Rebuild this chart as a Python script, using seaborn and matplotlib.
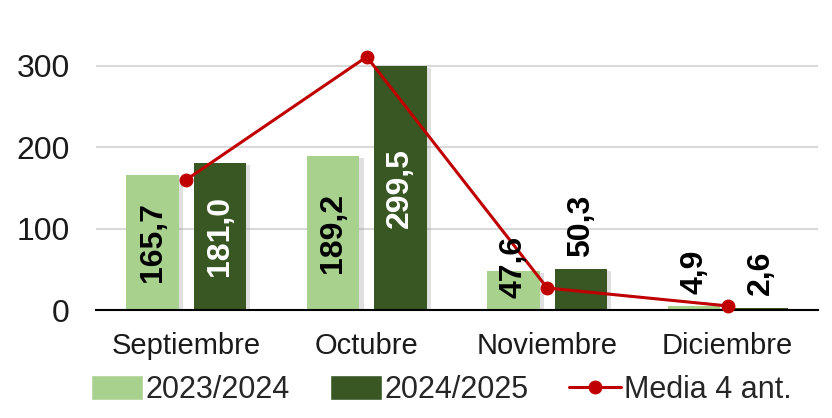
import matplotlib
matplotlib.use("Agg")
import matplotlib.pyplot as plt
import matplotlib.patheffects as pe
from matplotlib.lines import Line2D
from matplotlib.patches import Patch
import pandas as pd
import seaborn as sns

months = ["Septiembre", "Octubre", "Noviembre", "Diciembre"]
season_a = [165.7, 189.2, 47.6, 4.9]
season_b = [181.0, 299.5, 50.3, 2.6]
media_4 = [160, 311, 27, 5]
season_names = ["2023/2024", "2024/2025"]

LIGHT = "#A9D18E"
DARK = "#385723"
RED = "#C00000"

sns.set_theme(style="white")
plt.rcParams["font.family"] = ["Liberation Sans", "DejaVu Sans"]

df = pd.DataFrame({
    "mes": months * 2,
    "valor": season_a + season_b,
    "temporada": [season_names[0]] * 4 + [season_names[1]] * 4,
})

fig = plt.figure(figsize=(8.32, 4.18), dpi=100)
ax = fig.add_axes([96 / 832, 108 / 418, 722 / 832, 285 / 418])

sns.barplot(data=df, x="mes", y="valor", hue="temporada", order=months,
            hue_order=season_names, palette=[LIGHT, DARK], width=0.744,
            gap=0.22, saturation=1, legend=False, ax=ax, zorder=2)

shadow = [pe.SimplePatchShadow(offset=(3, -1.5), shadow_rgbFace="#999999", alpha=0.3), pe.Normal()]
for bar in ax.patches:
    bar.set_path_effects(shadow)
    bar.set_edgecolor("none")

x = list(range(len(months)))
ax.plot(x, media_4, color=RED, lw=2.2, marker="o", ms=9, zorder=4, clip_on=False)

# data labels
for container, vals, inner_color in zip(ax.containers, [season_a, season_b], ["black", "white"]):
    for bar, v in zip(container, vals):
        cx = bar.get_x() + bar.get_width() / 2
        txt = f"{v:.1f}".replace(".", ",")
        if v > 100:
            ax.text(cx, v / 2, txt, rotation=90, ha="center", va="center",
                    fontsize=23, fontweight="bold", color=inner_color, zorder=5)
        else:
            off = -19 if v == 47.6 else 9
            ax.annotate(txt, (cx, v), xytext=(0, off), textcoords="offset points",
                        rotation=90, ha="center", va="bottom", fontsize=23,
                        fontweight="bold", color="black", zorder=5)

ax.set_xlim(-0.5, len(months) - 0.5)
ax.set_ylim(0, 350)
ax.set_yticks([0, 100, 200, 300])
ax.yaxis.grid(True, color="#D9D9D9", lw=1.5, zorder=0)
ax.set_axisbelow(True)
for s in ["left", "right", "top"]:
    ax.spines[s].set_visible(False)
ax.spines["bottom"].set_color("black")
ax.spines["bottom"].set_linewidth(1.5)
ax.set_xlabel("")
ax.set_ylabel("")
ax.tick_params(axis="y", length=0, labelsize=23, pad=19, colors="#1a1a1a")
ax.tick_params(axis="x", which="major", length=0, labelsize=21, pad=16, colors="#1a1a1a")
ax.set_xticks([i - 0.5 for i in range(len(months) + 1)], minor=True)
ax.tick_params(axis="x", which="minor", length=7, width=1.5, color="black", direction="out")

handles = [
    Patch(facecolor=LIGHT, label=season_names[0]),
    Patch(facecolor=DARK, label=season_names[1]),
    Line2D([], [], color=RED, lw=2.2, marker="o", ms=9, label="Media 4 ant."),
]
fig.legend(handles=handles, loc="lower center", bbox_to_anchor=(0.53, -0.035), ncol=3,
           frameon=False, fontsize=22, handlelength=1.7, handleheight=0.85,
           handletextpad=0.1, columnspacing=1.3)

fig.patch.set_facecolor("white")
fig.savefig("out.png", dpi=100)
